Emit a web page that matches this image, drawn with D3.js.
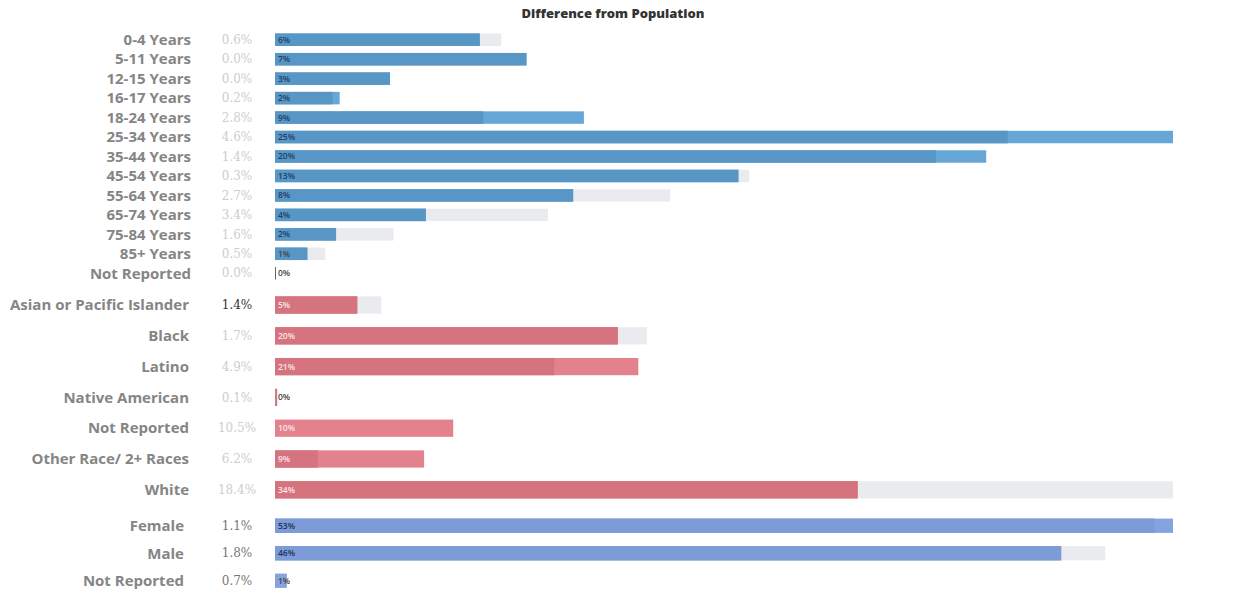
<!DOCTYPE html>
<html>
<head>
<meta charset="utf-8">
<script src="https://cdn.jsdelivr.net/npm/d3@7"></script>
<style>
  body { margin: 0; background: #fff; }
  svg { display: block; font-family: "Open Sans", sans-serif; }
</style>
</head>
<body>
<svg width="1243" height="603"></svg>
<script>
// Age groups
const ageCats = ["0-4 Years", "5-11 Years", "12-15 Years", "16-17 Years", "18-24 Years", "25-34 Years",
  "35-44 Years", "45-54 Years", "55-64 Years", "65-74 Years", "75-84 Years", "85+ Years", "Not Reported"];
const ageSample = [5.7, 7.0, 3.2, 1.8, 8.6, 25.0, 19.8, 12.9, 8.3, 4.2, 1.7, 0.9, 0];
const agePop    = [6.3, 7.0, 3.2, 1.6, 5.8, 20.4, 18.4, 13.2, 11.0, 7.6, 3.3, 1.4, 0];
const ageDiff   = ["0.6%", "0.0%", "0.0%", "0.2%", "2.8%", "4.6%", "1.4%", "0.3%", "2.7%", "3.4%", "1.6%", "0.5%", "0.0%"];

// Race
const raceCats = ["Asian or Pacific Islander", "Black", "Latino", "Native American", "Not Reported", "Other Race/ 2+ Races", "White"];
const raceSample = [4.8, 20.0, 21.2, 0.1, 10.4, 8.7, 34.0];
const racePop    = [6.2, 21.7, 16.3, 0.2, 0, 2.5, 52.4];
const raceDiff   = ["1.4%", "1.7%", "4.9%", "0.1%", "10.5%", "6.2%", "18.4%"];

// Gender
const genderCats = ["Female", "Male", "Not Reported"];
const genderSample = [53.0, 46.4, 0.7];
const genderPop    = [51.9, 49.0, 0];
const genderDiff   = ["1.1%", "1.8%", "0.7%"];

const svg = d3.select("svg");
const x0 = 275, x1 = 1173;

svg.append("text")
  .attr("x", 613).attr("y", 18)
  .attr("text-anchor", "middle")
  .attr("font-size", 13).attr("font-weight", 800)
  .attr("fill", "#333")
  .text("Difference from Population");

const sections = [
  { cats: ageCats, sample: ageSample, pop: agePop, diff: ageDiff, range: [30, 283], pad: 0.36,
    light: "#66a7d7", dark: "#5896c5", labelX: 191, labelColor: "#1f3f66", diffColor: ["#cdcdcd"] },
  { cats: raceCats, sample: raceSample, pop: racePop, diff: raceDiff, range: [289.6, 505.2], pad: 0.44,
    light: "#e3828d", dark: "#d5737e", labelX: 189, labelColor: "#fbe6e8",
    diffColor: ["#333", "#cdcdcd", "#cdcdcd", "#cdcdcd", "#cdcdcd", "#cdcdcd", "#cdcdcd"] },
  { cats: genderCats, sample: genderSample, pop: genderPop, diff: genderDiff, range: [512, 594.5], pad: 0.48,
    light: "#84a3df", dark: "#7c9bd7", labelX: 184, labelColor: "#22325a", diffColor: ["#777"] }
];

sections.forEach(s => {
  const rows = s.cats.map((c, i) => ({ cat: c, sample: s.sample[i], pop: s.pop[i], diff: s.diff[i], i }));
  const maxV = d3.max(rows, d => Math.max(d.sample, d.pop));
  const x = d3.scaleLinear().domain([0, maxV]).range([x0, x1]);
  const y = d3.scaleBand().domain(s.cats).range(s.range).paddingInner(s.pad).paddingOuter(s.pad / 2);
  const g = svg.append("g");

  // Category labels
  g.selectAll(".cat").data(rows).enter().append("text")
    .attr("x", s.labelX)
    .attr("y", d => y(d.cat) + y.bandwidth() / 2)
    .attr("dy", "0.35em")
    .attr("text-anchor", "end")
    .attr("font-size", 15).attr("font-weight", 700)
    .attr("fill", "#858585")
    .text(d => d.cat);

  // Difference column
  g.selectAll(".diff").data(rows).enter().append("text")
    .attr("x", 237)
    .attr("y", d => y(d.cat) + y.bandwidth() / 2)
    .attr("dy", "0.35em")
    .attr("text-anchor", "middle")
    .attr("font-size", 12)
    .attr("font-family", "DejaVu Serif, serif")
    .attr("fill", d => s.diffColor[d.i] || s.diffColor[0])
    .text(d => d.diff);

  // Population bars
  g.selectAll(".pop").data(rows).enter().append("rect")
    .attr("x", x(0))
    .attr("y", d => y(d.cat))
    .attr("width", d => x(d.pop) - x(0))
    .attr("height", y.bandwidth())
    .attr("fill", "#e9ebee");

  // Sample bars
  g.selectAll(".bar").data(rows).enter().append("rect")
    .attr("x", x(0))
    .attr("y", d => y(d.cat))
    .attr("width", d => Math.max(d.sample > 0 ? 2 : 1, x(d.sample) - x(0)))
    .attr("height", y.bandwidth())
    .attr("fill", d => d.sample > 0 ? s.light : "#666");

  // Overlap of sample and population (darker)
  g.selectAll(".overlap").data(rows.filter(d => d.sample > 0 && d.pop > 0)).enter().append("rect")
    .attr("x", x(0))
    .attr("y", d => y(d.cat))
    .attr("width", d => x(Math.min(d.sample, d.pop)) - x(0))
    .attr("height", y.bandwidth())
    .attr("fill", s.dark);

  // Bar value labels
  g.selectAll(".val").data(rows).enter().append("text")
    .attr("x", x(0) + 3)
    .attr("y", d => y(d.cat) + y.bandwidth() / 2)
    .attr("dy", "0.35em")
    .attr("font-size", 8.5).attr("font-weight", 600)
    .attr("fill", d => d.sample < 1 ? "#444" : s.labelColor)
    .text(d => Math.round(d.sample) + "%");
});
</script>
</body>
</html>
